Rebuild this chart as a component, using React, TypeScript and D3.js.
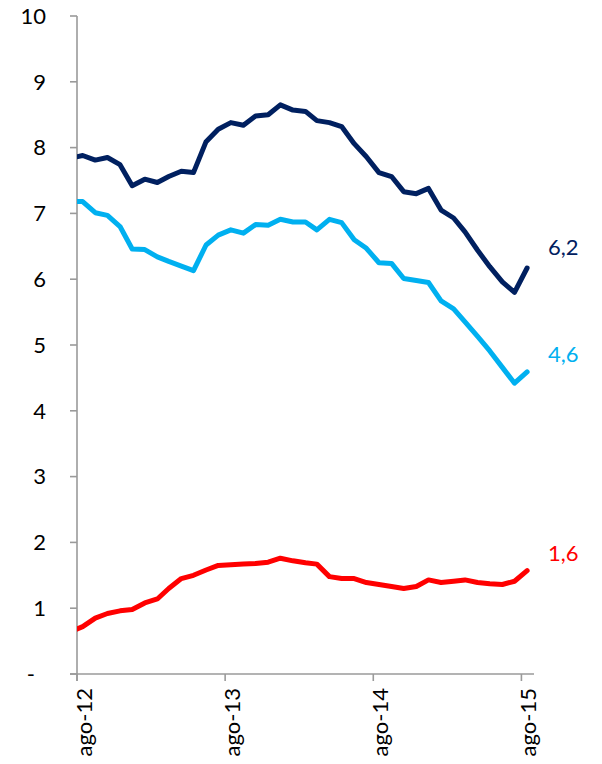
import React from "react";
import * as d3 from "d3";

// Monthly observations (mid-month), Jul-2012 .. Aug-2015
const months: Date[] = d3.timeMonth.range(new Date(2012, 6, 1), new Date(2015, 8, 1));

const seriesNavy = [7.84, 7.88, 7.81, 7.85, 7.74, 7.42, 7.52, 7.47, 7.56, 7.64, 7.62, 8.09, 8.28, 8.38, 8.34, 8.48, 8.50, 8.65, 8.57, 8.55, 8.41, 8.38, 8.32, 8.06, 7.86, 7.62, 7.56, 7.33, 7.30, 7.38, 7.05, 6.93, 6.72, 6.44, 6.19, 5.96, 5.80, 6.17];
const seriesLight = [7.18, 7.18, 7.01, 6.97, 6.80, 6.46, 6.45, 6.34, 6.27, 6.20, 6.13, 6.52, 6.67, 6.75, 6.70, 6.83, 6.82, 6.91, 6.87, 6.87, 6.75, 6.91, 6.86, 6.60, 6.47, 6.25, 6.24, 6.01, 5.98, 5.95, 5.67, 5.55, 5.35, 5.13, 4.91, 4.66, 4.42, 4.59];
const seriesRed = [0.64, 0.72, 0.85, 0.92, 0.96, 0.98, 1.08, 1.14, 1.30, 1.45, 1.50, 1.58, 1.65, 1.66, 1.67, 1.68, 1.70, 1.76, 1.72, 1.69, 1.67, 1.48, 1.45, 1.45, 1.39, 1.36, 1.33, 1.30, 1.33, 1.43, 1.39, 1.41, 1.43, 1.39, 1.37, 1.36, 1.41, 1.57];

const endLabels = ["6,2", "4,6", "1,6"];
const xTickDates = [new Date(2012, 7, 1), new Date(2013, 7, 1), new Date(2014, 7, 1), new Date(2015, 7, 1)];
const xTickLabels = ["ago-12", "ago-13", "ago-14", "ago-15"];
const yTicks = [0, 1, 2, 3, 4, 5, 6, 7, 8, 9, 10];

const W = 602;
const H = 764;
const FONT = "Lato, 'Open Sans', sans-serif";

export default function App() {
  const x = d3.scaleTime().domain([new Date(2012, 7, 1), new Date(2015, 8, 1)]).range([77, 534]);
  const y = d3.scaleLinear().domain([0, 10]).range([674, 16]);

  const dates = months.map((m) => d3.timeDay.offset(m, 14));
  const line = d3
    .line<number>()
    .x((_, i) => x(dates[i]))
    .y((v) => y(v));

  const series = [
    { values: seriesNavy, color: "#002060", label: endLabels[0], dy: -21 },
    { values: seriesLight, color: "#00B0F0", label: endLabels[1], dy: -18 },
    { values: seriesRed, color: "#FF0000", label: endLabels[2], dy: -17 },
  ];

  const x0 = x.range()[0];
  const x1 = x.range()[1];
  const yBottom = y(0);
  const yTop = y(10);
  const axisColor = "#9a9a9a";
  const lastIdx = dates.length - 1;

  return (
    <svg
      width={W}
      height={H}
      style={{ position: "absolute", left: 0, top: 0, display: "block", background: "#fff" }}
    >
      <defs>
        <clipPath id="plotClip">
          <rect x={x0} y={0} width={W - x0} height={H} />
        </clipPath>
      </defs>

      {/* Y axis */}
      <line x1={x0} x2={x0} y1={yTop} y2={yBottom + 7} stroke={axisColor} strokeWidth={1.6} />
      {yTicks.map((t) => (
        <g key={"y" + t}>
          <line x1={x0 - 7} x2={x0} y1={y(t)} y2={y(t)} stroke={axisColor} strokeWidth={1.6} />
          <text
            x={t === 0 ? 35 : 46}
            y={y(t)}
            dy="0.35em"
            textAnchor="end"
            fontFamily={FONT}
            fontSize={22}
            fill="#000"
          >
            {t === 0 ? "-" : String(t)}
          </text>
        </g>
      ))}

      {/* X axis */}
      <line x1={x0 - 7} x2={x1} y1={yBottom} y2={yBottom} stroke={axisColor} strokeWidth={1.6} />
      {xTickDates.map((d, i) => (
        <g key={"x" + i}>
          <line x1={x(d)} x2={x(d)} y1={yBottom} y2={yBottom + 7} stroke={axisColor} strokeWidth={1.6} />
          <text
            transform={`translate(${x(d) + 15},${yBottom + 14}) rotate(-90)`}
            textAnchor="end"
            fontFamily={FONT}
            fontSize={22}
            fill="#000"
          >
            {xTickLabels[i]}
          </text>
        </g>
      ))}

      {/* Lines */}
      <g clipPath="url(#plotClip)">
        {series.map((s, i) => (
          <path
            key={"s" + i}
            d={line(s.values) || ""}
            fill="none"
            stroke={s.color}
            strokeWidth={5}
            strokeLinejoin="round"
            strokeLinecap="round"
          />
        ))}
      </g>

      {/* End labels */}
      {series.map((s, i) => (
        <text
          key={"l" + i}
          x={x(dates[lastIdx]) + 21}
          y={y(s.values[lastIdx]) + s.dy}
          dy="0.35em"
          fontFamily={FONT}
          fontSize={22}
          fill={s.color}
        >
          {s.label}
        </text>
      ))}
    </svg>
  );
}
